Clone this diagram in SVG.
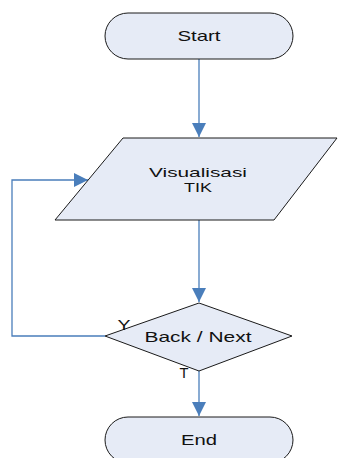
<svg xmlns="http://www.w3.org/2000/svg" width="338" height="458" viewBox="0 0 338 458">
<style>
.shape{fill:#e6ebf6;stroke:#1a1a1a;stroke-width:1}
.lbl{font-family:"Liberation Sans",Arial,sans-serif;font-size:15px;fill:#111;text-anchor:middle}
.sm{font-size:13.5px}
.conn{fill:none;stroke:#4a7ebb;stroke-width:1.3}
</style>
<defs>
<marker id="ah" markerUnits="userSpaceOnUse" markerWidth="14" markerHeight="14" viewBox="0 0 12 12" refX="12" refY="6" orient="auto">
<path d="M0,0 L12,6 L0,12 Z" fill="#4a7ebb"/>
</marker>
</defs>
<rect width="338" height="458" fill="#fff"/>
<g id="connectors">
<line class="conn" x1="199" y1="59" x2="199" y2="137" marker-end="url(#ah)"/>
<line class="conn" x1="199" y1="220" x2="199" y2="302" marker-end="url(#ah)"/>
<line class="conn" x1="199" y1="371" x2="199" y2="416" marker-end="url(#ah)"/>
<polyline class="conn" points="105,336 12,336 12,180 88,180" marker-end="url(#ah)"/>
</g>
<g id="start">
<rect class="shape" x="105" y="13" width="188" height="46" rx="23" ry="23"/>
<text class="lbl" x="199" y="41" textLength="43" lengthAdjust="spacingAndGlyphs">Start</text>
</g>
<g id="visualisasi">
<polygon class="shape" points="123,138 337,138 274,220 55,220"/>
<text class="lbl sm" x="198" y="177" textLength="98" lengthAdjust="spacingAndGlyphs">Visualisasi</text>
<text class="lbl sm" x="198" y="192" textLength="28" lengthAdjust="spacingAndGlyphs">TIK</text>
</g>
<g id="decision">
<polygon class="shape" points="199,303 292,336 199,371 105,336"/>
<text class="lbl" x="198" y="342" textLength="107" lengthAdjust="spacingAndGlyphs">Back / Next</text>
<text class="lbl" x="124" y="330" textLength="13" lengthAdjust="spacingAndGlyphs">Y</text>
<text class="lbl" x="184" y="378" textLength="9" lengthAdjust="spacingAndGlyphs">T</text>
</g>
<g id="end">
<rect class="shape" x="105" y="417" width="188" height="46" rx="23" ry="23"/>
<text class="lbl" x="199" y="445" textLength="36" lengthAdjust="spacingAndGlyphs">End</text>
</g>
</svg>
